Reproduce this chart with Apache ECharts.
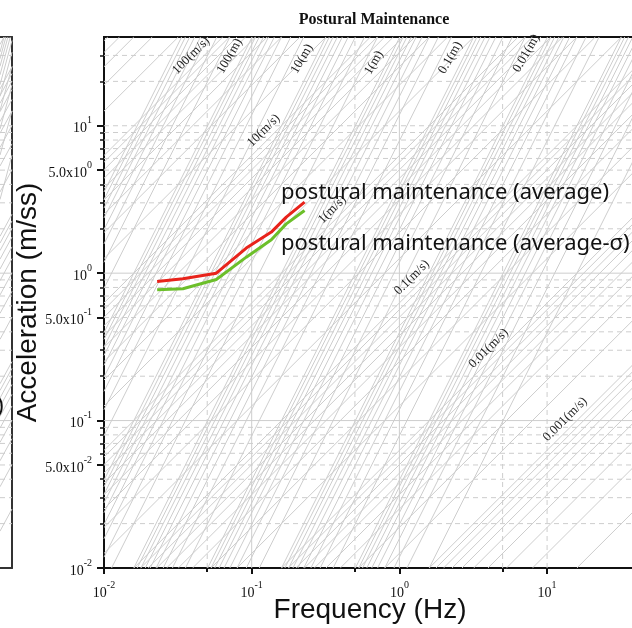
<!DOCTYPE html>
<html><head><meta charset="utf-8">
<script src="https://cdn.jsdelivr.net/npm/echarts@6/dist/echarts.min.js"></script>
<style>html,body{margin:0;padding:0;background:#fff}#c{width:632px;height:628px}</style>
</head><body><div id="c"></div>
<script>
// ---- data ----
const freqHz = [0.0229, 0.0342, 0.0576, 0.0919, 0.1358, 0.1714, 0.228];
const accAverage = [0.878, 0.916, 1.0, 1.48, 1.90, 2.40, 3.03];
const accAverageMinusSigma = [0.772, 0.784, 0.906, 1.284, 1.684, 2.16, 2.66];
const seriesNames = ['postural maintenance (average)', 'postural maintenance (average-σ)'];
const xLabelValues = [0.01, 0.1, 1, 10];
const xTickValues = [0.01, 0.1, 1, 10];
const xHalfTickValues = [0.05, 0.5, 5];
const yLabelValues = [0.01, 0.05, 0.1, 0.5, 1, 5, 10];
const yMajorTickValues = [0.01, 0.05, 0.1, 0.5, 1, 5, 10];
const yMinorTickValues = [0.02,0.03,0.04,0.06,0.07,0.08,0.09,0.2,0.3,0.4,0.6,0.7,0.8,0.9,2,3,4,6,7,8,9,20,30];
const hGridDashed = [0.02,0.03,0.04,0.05,0.06,0.07,0.08,0.09,0.2,0.3,0.4,0.5,0.6,0.7,0.8,0.9,2,3,4,5,6,7,8,9,10,20,30];
const hGridSolid = [0.1, 1];
const vGridDashed = [0.05, 0.5, 5, 10];
const vGridSolid = [0.1, 1];
// iso-velocity (m/s) and iso-displacement (m) reference levels
const levelMantissas = [1,2,3,4,5,6,7,8,9];
const levelDecades = [-4,-3,-2,-1,0,1,2];
const velocityLabels = [
  {text:'100(m/s)', value:100, acc:29.9},
  {text:'10(m/s)', value:10, acc:9.28},
  {text:'1(m/s)', value:1, acc:2.70},
  {text:'0.1(m/s)', value:0.1, acc:0.935},
  {text:'0.01(m/s)', value:0.01, acc:0.309},
  {text:'0.001(m/s)', value:0.001, acc:0.102}
];
const displacementLabels = [
  {text:'100(m)', value:100, acc:29.7},
  {text:'10(m)', value:10, acc:28.5},
  {text:'1(m)', value:1, acc:26.8},
  {text:'0.1(m)', value:0.1, acc:29.0},
  {text:'0.01(m)', value:0.01, acc:31.0}
];
const fMin = 0.01, fMax = 40, aMin = 0.01, aMax = 40;
// neighbouring (clipped) panel shows only the last part of its frequency range
const leftPanelFMin = 28.3;

// ---- reference line segments (a = 2πf·v, a = (2πf)²·d), clipped to a frequency range ----
const TWO_PI = 2*Math.PI;
function velSeg(v, lo, hi){
  const f1 = Math.max(lo, aMin/(TWO_PI*v)), f2 = Math.min(hi, aMax/(TWO_PI*v));
  if (f1 >= f2) return null;
  return [[f1, TWO_PI*f1*v],[f2, TWO_PI*f2*v]];
}
function dispSeg(d, lo, hi){
  const f1 = Math.max(lo, Math.sqrt(aMin/d)/TWO_PI), f2 = Math.min(hi, Math.sqrt(aMax/d)/TWO_PI);
  if (f1 >= f2) return null;
  const s = f=>[f, Math.pow(TWO_PI*f,2)*d];
  return [s(f1), s(f2)];
}
function buildRef(lo, hi){
  const segs = [];
  levelDecades.forEach(n=>levelMantissas.forEach(k=>{
    const val = k*Math.pow(10,n);
    const a = velSeg(val, lo, hi); if (a) segs.push(a);
    const b = dispSeg(val, lo, hi); if (b) segs.push(b);
  }));
  const dashed = [], solid = [];
  hGridDashed.forEach(y=>dashed.push([[lo,y],[hi,y]]));
  vGridDashed.filter(x=>x>=lo&&x<=hi).forEach(x=>dashed.push([[x,aMin],[x,aMax]]));
  hGridSolid.forEach(y=>solid.push([[lo,y],[hi,y]]));
  vGridSolid.filter(x=>x>=lo&&x<=hi).forEach(x=>solid.push([[x,aMin],[x,aMax]]));
  return {segs, dashed, solid};
}
// join segments into one polyline broken by empty points
function joinBroken(segs){
  const out = [];
  segs.forEach((s,i)=>{ if (i) out.push(['-','-']); out.push(s[0], s[1]); });
  return out;
}

const GRAY = '#cdcdcd';
const serif = '"Liberation Serif","Times New Roman",serif';
function sciFmt(v){
  const e = Math.floor(Math.log10(v) + 1e-9);
  const m = v/Math.pow(10,e);
  const base = Math.abs(m-1) < 1e-6 ? '10' : m.toFixed(1)+'x10';
  return '{b|'+base+'}{s|'+e+'}';
}
const rich = {
  b:{fontFamily:serif, fontSize:14, color:'#111', lineHeight:20, verticalAlign:'bottom'},
  s:{fontFamily:serif, fontSize:10, color:'#111', lineHeight:20, verticalAlign:'top', padding:[0,0,6,0]}
};

function refSeries(xi, yi, lo, hi){
  const r = buildRef(lo, hi);
  const mk = (data, style, z)=>({type:'line', xAxisIndex:xi, yAxisIndex:yi, silent:true, z:z,
    symbol:'none', connectNulls:false, animation:false, lineStyle:style, data:joinBroken(data)});
  return [
    mk(r.dashed, {color:GRAY, width:1, type:[5,4]}, 1),
    mk(r.solid, {color:GRAY, width:1}, 1),
    mk(r.segs, {color:GRAY, width:1}, 2)
  ];
}

const axisLineStyle = {color:'#111', width:2};
const hidden = {axisLine:{show:false}, axisTick:{show:false}, axisLabel:{show:false}, splitLine:{show:false}};
const option = {
  animation:false,
  backgroundColor:'#fff',
  title:{text:'Postural Maintenance', left:369, top:7, textAlign:'center',
    textStyle:{fontFamily:serif, fontWeight:'bold', fontSize:16, color:'#111'}},
  grid:[
    {left:104, top:37, width:532, height:531, show:true, borderColor:'#111', borderWidth:2, backgroundColor:'#fff', outerBoundsMode:'none', containLabel:false},
    {left:0, top:37, width:12, height:531, show:false, outerBoundsMode:'none', containLabel:false}
  ],
  xAxis:[
    {type:'log', logBase:10, gridIndex:0, min:fMin, max:fMax, position:'bottom',
     axisLine:{show:true, lineStyle:axisLineStyle},
     axisTick:{show:true, inside:false, length:6, customValues:xTickValues, lineStyle:{color:'#111', width:2}},
     axisLabel:{show:true, customValues:xLabelValues, margin:12, formatter:sciFmt, rich:rich},
     splitLine:{show:false}, minorTick:{show:false},
     name:'Frequency (Hz)', nameLocation:'middle', nameGap:28, nameMoveOverlap:false,
     nameTextStyle:{fontFamily:'"Liberation Sans",Arial,sans-serif', fontSize:28, color:'#111'}},
    {type:'log', logBase:10, gridIndex:0, min:fMin, max:fMax, position:'bottom',
     axisLine:{show:false}, axisTick:{show:true, length:4, customValues:xHalfTickValues, lineStyle:{color:'#111', width:2}},
     axisLabel:{show:false}, splitLine:{show:false}},
    // neighbouring panel: bottom and top frame lines
    Object.assign({type:'log', logBase:10, gridIndex:1, min:leftPanelFMin, max:fMax, position:'bottom'}, hidden,
      {axisLine:{show:true, lineStyle:{color:'#333', width:2}}}),
    Object.assign({type:'log', logBase:10, gridIndex:1, min:leftPanelFMin, max:fMax, position:'top'}, hidden,
      {axisLine:{show:true, lineStyle:{color:'#333', width:2}}})
  ],
  yAxis:[
    {type:'log', logBase:10, gridIndex:0, min:aMin, max:aMax, position:'left',
     axisLine:{show:true, lineStyle:axisLineStyle},
     axisTick:{show:true, length:7, customValues:yMajorTickValues, lineStyle:{color:'#111', width:2}},
     axisLabel:{show:true, customValues:yLabelValues, margin:12, formatter:sciFmt, rich:rich},
     splitLine:{show:false},
     name:'Acceleration (m/ss)', nameLocation:'middle', nameGap:62, nameRotate:90, nameMoveOverlap:false,
     nameTextStyle:{fontFamily:'"Liberation Sans",Arial,sans-serif', fontSize:28, color:'#111'}},
    {type:'log', logBase:10, gridIndex:0, min:aMin, max:aMax, position:'left',
     axisLine:{show:false}, axisTick:{show:true, length:4, customValues:yMinorTickValues, lineStyle:{color:'#111', width:1.5}},
     axisLabel:{show:false}, splitLine:{show:false}},
    Object.assign({type:'log', logBase:10, gridIndex:1, min:aMin, max:aMax, position:'right'}, hidden,
      {axisLine:{show:true, lineStyle:{color:'#333', width:2}}})
  ],
  series:[
    ...refSeries(0, 0, fMin, fMax), ...refSeries(2, 2, leftPanelFMin, fMax),
    {type:'line', name:seriesNames[0], xAxisIndex:0, yAxisIndex:0, z:10, symbol:'none', silent:true,
     lineStyle:{color:'#e8231b', width:3}, data:freqHz.map((f,i)=>[f, accAverage[i]])},
    {type:'line', name:seriesNames[1], xAxisIndex:0, yAxisIndex:0, z:9, symbol:'none', silent:true,
     lineStyle:{color:'#6cbf2a', width:3}, data:freqHz.map((f,i)=>[f, accAverageMinusSigma[i]])}
  ]
};
const chart = echarts.init(document.getElementById('c'), null, {renderer:'canvas'});
chart.setOption(option);

// labels of the reference lines, placed through the chart's own scales
const graphics = [];
const LABEL_DX = -13;
function labelStyle(t){
  return {text:t, fontFamily:serif, fontSize:13, fill:'#222', align:'center', verticalAlign:'middle', textAlign:'center', textVerticalAlign:'middle'};
}
velocityLabels.forEach(L=>{
  const f = L.acc/(TWO_PI*L.value);
  const p = chart.convertToPixel({xAxisIndex:0, yAxisIndex:0}, [f, L.acc]);
  graphics.push({type:'text', x:p[0]+LABEL_DX, y:p[1], rotation:Math.PI/4, z:20, silent:true, style:labelStyle(L.text)});
});
displacementLabels.forEach(L=>{
  const f = Math.sqrt(L.acc/L.value)/TWO_PI;
  const p = chart.convertToPixel({xAxisIndex:0, yAxisIndex:0}, [f, L.acc]);
  graphics.push({type:'text', x:p[0]+LABEL_DX, y:p[1], rotation:Math.PI/3, z:20, silent:true, style:labelStyle(L.text)});
});
// series annotations
const annFont = '"Noto Sans","Open Sans",sans-serif';
graphics.push({type:'text', left:281, top:182, z:30, silent:true,
  style:{text:seriesNames[0], fontFamily:annFont, fontSize:22, fill:'#111'}});
graphics.push({type:'text', left:281, top:233, z:30, silent:true,
  style:{text:seriesNames[1], fontFamily:annFont, fontSize:22, fill:'#111'}});
// clipped annotation end from the neighbouring panel
graphics.push({type:'text', left:-3, top:396, z:30, silent:true,
  style:{text:')', fontFamily:annFont, fontSize:22, fill:'#111'}});
chart.setOption({graphic:graphics});
</script></body></html>
